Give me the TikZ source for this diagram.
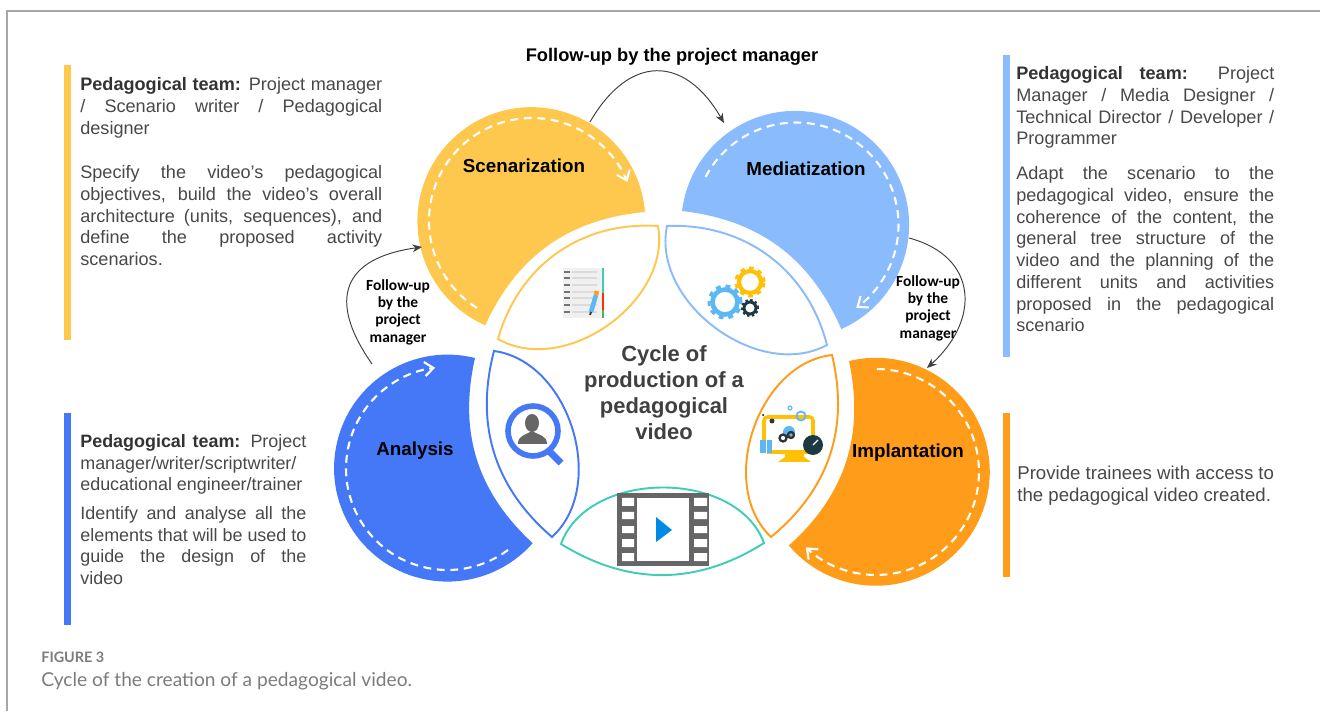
\documentclass[tikz,border=0pt]{standalone}
\usepackage{fontspec}
\setmainfont{Liberation Sans}
\newfontfamily\capfont{Lato}
\newfontfamily\lblfont{Carlito}
\usepackage{xcolor}
\usetikzlibrary{arrows.meta}
\definecolor{scenyellow}{HTML}{FEC84F}
\definecolor{mediblue}{HTML}{8ABBFC}
\definecolor{analblue}{HTML}{4478F6}
\definecolor{implorange}{HTML}{FF9C1A}
\definecolor{filmteal}{HTML}{40CDB4}
\definecolor{bodygrey}{HTML}{484848}
\definecolor{capgrey}{HTML}{7C7C7C}
\definecolor{icongrey}{HTML}{666666}
\definecolor{darkteal}{HTML}{1D3A44}
\definecolor{skyblue}{HTML}{5CB8F5}
\definecolor{gearyellow}{HTML}{FFC107}
\tikzset{para/.style={anchor=north west,inner sep=0pt,align=justify,text=bodygrey,font=\fontsize{10.3}{12.4}\selectfont},
  stage/.style={inner sep=0pt,font=\fontsize{10.7}{13}\selectfont\bfseries,text=black},
  follow/.style={inner sep=0pt,align=center,font=\lblfont\fontsize{8.8}{9.9}\selectfont\bfseries,text=black},
  lens/.style={fill=white,line width=1.1pt},
  flowdash/.style={white,line width=1.2pt,dash pattern=on 4.5pt off 3.2pt,-{Straight Barb[length=5pt,width=8pt]}},
  followarrow/.style={->,draw=black!75,line width=0.55pt}}

\begin{document}
\begin{tikzpicture}[>={Stealth[length=5.5pt,width=4.5pt]},x=0.02cm,y=0.02cm]
    \useasboundingbox (0,0) rectangle (1320,711);
    \draw[black!35,line width=1.1pt] (7,0) -- (7,700) -- (1320,700);

    % side bars
    \fill[scenyellow] (64,371) rectangle (71,646);
    \fill[mediblue] (1003,354) rectangle (1010,656);
    \fill[analblue] (64,86) rectangle (71,298);
    \fill[implorange] (1003,134) rectangle (1010,298);

    % crescents
    \coordinate (scena) at (645,499);
    \coordinate (scenc) at (532,490);
    \coordinate (media) at (682,500);
    \coordinate (medic) at (796,486);
    \coordinate (anala) at (475,353);
    \coordinate (analc) at (447.5,242.5);
    \coordinate (impla) at (849,350);
    \coordinate (implc) at (876,239);
    \fill[scenyellow] (scena) arc[start angle=4.6,end angle=246.1,radius=2.28cm] to[bend left=30] (scena) -- cycle;
    \fill[mediblue] (media) arc[start angle=173,end angle=-66.1,radius=2.28cm] to[bend right=30] (media) -- cycle;
    \fill[analblue] (anala) arc[start angle=76,end angle=318.6,radius=2.27cm] to[bend left=30] (anala) -- cycle;
    \fill[implorange] (impla) arc[start angle=103.6,end angle=-139.7,radius=2.28cm] to[bend right=30] (impla) -- cycle;
    \draw[flowdash] ([shift={(237.6:2.06cm)}]scenc) arc[start angle=237.6,end angle=22.3,radius=2.06cm];
    \draw[flowdash] ([shift={(152:2.05cm)}]medic) arc[start angle=152,end angle=-54,radius=2.05cm];
    \draw[flowdash] ([shift={(306.6:2.03cm)}]analc) arc[start angle=306.6,end angle=97,radius=2.03cm];
    \draw[flowdash] ([shift={(89.5:2.06cm)}]implc) arc[start angle=89.5,end angle=-133,radius=2.06cm];

    \node[stage] (scen) at (524,545) {Scenarization};
    \node[stage] (medi) at (806,542) {Mediatization};
    \node[stage] (anal) at (415,260) {Analysis};
    \node[stage] (impl) at (908,258) {Implantation};

    % lenses
    \coordinate (lensya) at (498,372);
    \coordinate (lensyb) at (658,485);
    \coordinate (lensma) at (667,485);
    \coordinate (lensmb) at (827,366);
    \coordinate (lensaa) at (494,360);
    \coordinate (lensab) at (552,174);
    \coordinate (lensfa) at (561,167);
    \coordinate (lensfb) at (764,168);
    \coordinate (lensia) at (832,356);
    \coordinate (lensib) at (771,174);
    \draw[lens,draw=scenyellow] (lensya) to[bend left=39] (lensyb) to[bend left=65] (lensya) -- cycle;
    \draw[lens,draw=mediblue] (lensma) to[bend left=39] (lensmb) to[bend left=65] (lensma) -- cycle;
    \draw[lens,draw=analblue] (lensaa) to[bend left=65] (lensab) to[bend left=32] (lensaa) -- cycle;
    \draw[lens,draw=filmteal] (lensfa) to[bend left=70] (lensfb) to[bend left=32] (lensfa) -- cycle;
    \draw[lens,draw=implorange] (lensia) to[bend left=32] (lensib) to[bend left=65] (lensia) -- cycle;

    % notebook icon
    \fill[black!6] (563,393) rectangle (602,443);
    \draw[black!14,line width=1.3pt] (572,439) -- (597,439) (572,433) -- (597,433) (572,426) -- (597,426) (572,419) -- (597,419) (572,413) -- (597,413) (572,406) -- (597,406) (572,399) -- (597,399);
    \draw[black!55,line width=1.4pt] (564,439) -- (570,439) (564,433) -- (570,433) (564,426) -- (570,426) (564,419) -- (570,419) (564,413) -- (570,413) (564,406) -- (570,406) (564,399) -- (570,399);
    \fill[filmteal] (602,418) rectangle (604,443);
    \fill[red!65!orange] (602,401) rectangle (604,418);
    \fill[green!60!black!70] (602,393) rectangle (604,401);
    \draw[skyblue,line width=2.6pt] (591,399) -- (596,416);
    \draw[implorange,line width=2.6pt] (596,416) -- (597,420);
    \draw[black!80,line width=1pt] (590,396) -- (591,399);

    % gears icon
    \draw[gearyellow,line width=2.4pt] (750,429) circle[radius=0.22cm];
    \draw[gearyellow,line width=1.7pt,dash pattern=on 2.6pt off 2.6pt] (750,429) circle[radius=0.28cm];
    \draw[skyblue,line width=2.6pt] (725,409) circle[radius=0.25cm];
    \draw[skyblue,line width=1.7pt,dash pattern=on 2.8pt off 2.8pt] (725,409) circle[radius=0.32cm];
    \draw[darkteal,line width=1.7pt] (750,403) circle[radius=0.12cm];
    \draw[darkteal,line width=1.2pt,dash pattern=on 1.4pt off 1.4pt] (750,403) circle[radius=0.16cm];

    % magnifier icon
    \draw[analblue,line width=3.2pt] (533,280) circle[radius=0.5cm];
    \draw[analblue,line width=4pt] (550,259) -- (561,248);
    \fill[icongrey] (532,288) ellipse[x radius=0.14cm,y radius=0.18cm];
    \fill[icongrey] (518,267) .. controls (518,276) and (526,276) .. (532,280) .. controls (538,276) and (547,276) .. (547,267) -- cycle;

    % monitor icon
    \draw[gearyellow,line width=2pt,rounded corners=2pt] (764,294) rectangle (813,259);
    \fill[gearyellow] (785,259) -- (804,259) -- (804,254) -- (811,249) -- (778,249) -- (785,254) -- cycle;
    \fill[skyblue] (760,258) rectangle (772,271);
    \draw[white,line width=0.5pt] (766,258) -- (766,271);
    \fill[skyblue] (789,279) circle[radius=0.12cm];
    \draw[black!80,line width=1.3pt] (783,273) circle[radius=0.07cm] (791,276) circle[radius=0.06cm];
    \draw[skyblue,line width=1pt] (801,295) circle[radius=0.09cm];
    \draw[skyblue,line width=0.6pt] (790,303) circle[radius=0.04cm];
    \fill[black!80] (772,290) circle[radius=0.05cm];
    \fill[black] (763,296) circle[radius=0.02cm];
    \fill[darkteal] (813,266) circle[radius=0.2cm];
    \draw[white,line width=0.7pt] (813,266) -- (818,271);

    % film icon
    \fill[icongrey] (617,145) rectangle (709,218);
    \fill[white] (637,150) rectangle (689,213);
    \fill[white] (622,205) rectangle (634,213) (622,192) rectangle (634,199) (622,178) rectangle (634,185) (622,164) rectangle (634,172) (622,150) rectangle (634,158);
    \fill[white] (694,205) rectangle (707,213) (694,192) rectangle (707,199) (694,178) rectangle (707,185) (694,164) rectangle (707,172) (694,150) rectangle (707,158);
    \fill[blue!40!cyan!90!black] (656,194) -- (672,181) -- (656,169) -- cycle;

    \node[inner sep=0pt,align=center,text=black!75,font=\fontsize{12.5}{14.8}\selectfont\bfseries] (cycle) at (664,318) {Cycle of\\production of a\\pedagogical\\video};

    % follow-up arrows
    \coordinate (scenout) at (590,589);
    \coordinate (mediin) at (724,588);
    \coordinate (mediout) at (909,473);
    \coordinate (implin) at (927,343);
    \coordinate (analout) at (372,347);
    \coordinate (scenin) at (422,464);
    \draw[followarrow] (scenout) to[out=60,in=120,looseness=1.5] (mediin);
    \draw[followarrow] (mediout) to[out=-15,in=42,looseness=1.4] (implin);
    \draw[followarrow] (analout) to[out=125,in=188,looseness=1.6] (scenin);
    \node[inner sep=0pt,font=\fontsize{10.4}{13}\selectfont\bfseries,text=black] (followtop) at (672,654) {Follow-up by the project manager};
    \node[follow] (followleft) at (398,399) {Follow-up\\by the\\project\\manager};
    \node[follow] (followright) at (928,403) {Follow-up\\by the\\project\\manager};

    % team texts
    \node[para,text width=6.04cm] (scentext) at (80,634) {\textbf{\color{black!80}Pedagogical team:} Project manager\linebreak / Scenario writer / Pedagogical\linebreak designer};
    \node[para,text width=6.04cm] (scenbody) at (80,546) {Specify the video's pedagogical\linebreak objectives, build the video's overall\linebreak architecture (units, sequences), and\linebreak define the proposed activity\linebreak scenarios.};
    \node[para,text width=5.16cm] (meditext) at (1016,645) {\textbf{\color{black!80}Pedagogical team:} Project\linebreak Manager / Media Designer /\linebreak Technical Director / Developer /\linebreak Programmer};
    \node[para,text width=5.16cm] (medibody) at (1016,545) {Adapt the scenario to the\linebreak pedagogical video, ensure the\linebreak coherence of the content, the\linebreak general tree structure of the\linebreak video and the planning of the\linebreak different units and activities\linebreak proposed in the pedagogical\linebreak scenario};
    \node[para,text width=4.52cm,font=\fontsize{10.2}{12.4}\selectfont] (analtext) at (80,277) {\textbf{\color{black!80}Pedagogical team:} Project\linebreak manager/writer/scriptwriter/\linebreak educational engineer/trainer};
    \node[para,text width=4.52cm,font=\fontsize{10.2}{12.4}\selectfont] (analbody) at (80,205) {Identify and analyse all the\linebreak elements that will be used to\linebreak guide the design of the\linebreak video};
    \node[para,text width=5.2cm,font=\fontsize{10.6}{12.4}\selectfont] (impltext) at (1017,245) {Provide trainees with access to\\the pedagogical video created.};

    % caption
    \node[anchor=west,inner sep=0pt,text=capgrey,font=\capfont\fontsize{8.2}{10}\selectfont\bfseries] (figlabel) at (41,54) {FIGURE 3};
    \node[anchor=west,inner sep=0pt,text=capgrey,font=\capfont\fontsize{10.9}{12}\selectfont] (figtext) at (41,30) {Cycle of the creation of a pedagogical video.};
\end{tikzpicture}
\end{document}
